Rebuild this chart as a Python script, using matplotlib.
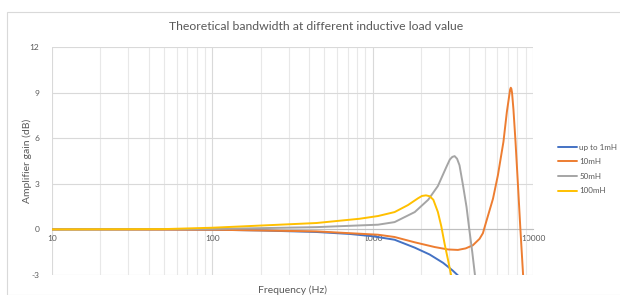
import matplotlib
matplotlib.use("Agg")
import matplotlib.pyplot as plt
from matplotlib.patches import Rectangle
from matplotlib.ticker import FixedLocator, FixedFormatter, LogLocator, NullFormatter

plt.rcParams['font.family'] = ['Lato', 'DejaVu Sans']

title = "Theoretical bandwidth at different inductive load value"
xlabel = "Frequency (Hz)"
ylabel = "Amplifier gain (dB)"

# Series data (frequency in Hz, gain in dB)
blue_f = [10, 50, 100, 200, 446, 720, 1000, 1370, 1830, 2265, 2750, 3150, 3420]
blue_db = [0, 0, -0.02, -0.07, -0.17, -0.3, -0.45, -0.68, -1.2, -1.65, -2.2, -2.7, -3.05]

orange_f = [10, 100, 446, 1080, 1370, 1830, 2435, 2950, 3400, 3800, 4210, 4640, 4870,
            5100, 5630, 6040, 6540, 6870, 7140, 7200, 7270, 7330, 7400, 7550, 7780, 8060,
            8340, 8680]
orange_db = [0, -0.02, -0.13, -0.35, -0.5, -0.85, -1.16, -1.32, -1.35, -1.25, -1.05, -0.62,
             -0.25, 0.48, 2.02, 3.56, 5.76, 7.73, 8.94, 9.2, 9.32, 9.25, 9.0, 7.9, 5.76, 2.9,
             0.05, -3.05]

gray_f = [10, 100, 171, 446, 1080, 1370, 1830, 2220, 2550, 2880, 3030, 3140, 3245, 3360,
          3480, 3660, 3850, 4000, 4180, 4350]
gray_db = [0, 0.03, 0.07, 0.15, 0.31, 0.48, 1.14, 1.95, 2.85, 4.1, 4.6, 4.77, 4.82, 4.65,
           4.22, 2.9, 1.47, 0.05, -1.49, -3.05]

yellow_f = [10, 50, 100, 171, 446, 828, 1080, 1370, 1660, 1920, 2030, 2150, 2270, 2390,
            2550, 2680, 2810, 2950, 3090]
yellow_db = [0, 0.02, 0.11, 0.22, 0.42, 0.7, 0.88, 1.14, 1.6, 2.05, 2.2, 2.24, 2.18, 1.95,
             1.15, 0.2, -0.95, -2.0, -3.05]

series_labels = ["up to 1mH", "10mH", "50mH", "100mH"]
series_colors = ["#4472C4", "#ED7D31", "#A5A5A5", "#FFC000"]

yticks = [-3, 0, 3, 6, 9, 12]
xticks = [10, 100, 1000, 10000]
xticklabels = ["10", "100", "1000", "10000"]

W, H = 620, 295
fig = plt.figure(figsize=(W / 100, H / 100), dpi=100)
fig.patches.append(Rectangle((7 / W, 0), 1, 1 - 12 / H, transform=fig.transFigure,
                             fill=False, edgecolor="#d9d9d9", linewidth=0.8))

ax = fig.add_axes([52 / W, 1 - 275 / H, (533 - 52) / W, (275 - 47) / H])
ax.set_xscale("log")
ax.set_xlim(10, 10000)
ax.set_ylim(-3, 12)

for f, d, lab, c in zip([blue_f, orange_f, gray_f, yellow_f],
                        [blue_db, orange_db, gray_db, yellow_db],
                        series_labels, series_colors):
    ax.plot(f, d, color=c, lw=1.4, label=lab, solid_capstyle="round",
            solid_joinstyle="round", zorder=3)

ax.xaxis.set_major_locator(FixedLocator(xticks))
ax.xaxis.set_major_formatter(FixedFormatter(xticklabels))
ax.xaxis.set_minor_locator(LogLocator(base=10, subs=range(2, 10)))
ax.xaxis.set_minor_formatter(NullFormatter())
ax.set_yticks(yticks)
ax.set_yticklabels([str(v) for v in yticks])

ax.grid(which="major", color="#d9d9d9", lw=0.8)
ax.grid(which="minor", axis="x", color="#e8e8e8", lw=0.8)
ax.set_axisbelow(True)

for s in ["top", "right", "left"]:
    ax.spines[s].set_visible(False)
ax.spines["bottom"].set_position(("data", 0))
ax.spines["bottom"].set_color("#bfbfbf")
ax.spines["bottom"].set_linewidth(0.8)

ax.tick_params(axis="both", which="both", length=0, labelsize=6, labelcolor="#595959")
ax.tick_params(axis="y", pad=9)
ax.tick_params(axis="x", pad=4)

ax.set_xlabel(xlabel, fontsize=7.5, color="#595959")
ax.xaxis.set_label_coords(0.5, -0.044)
ax.set_ylabel(ylabel, fontsize=7.5, color="#595959")
ax.yaxis.set_label_coords(-0.042, 0.5)

fig.text(316 / W, 1 - 27 / H, title, ha="center", va="center", fontsize=8.8, color="#595959")

fig.legend(loc="center left", bbox_to_anchor=(558 / W, 1 - 169 / H), frameon=False,
           fontsize=5.8, labelspacing=0.95, handlelength=2.3, handletextpad=0.35,
           borderpad=0, borderaxespad=0, labelcolor="#595959")

fig.savefig("out.png", dpi=100)
